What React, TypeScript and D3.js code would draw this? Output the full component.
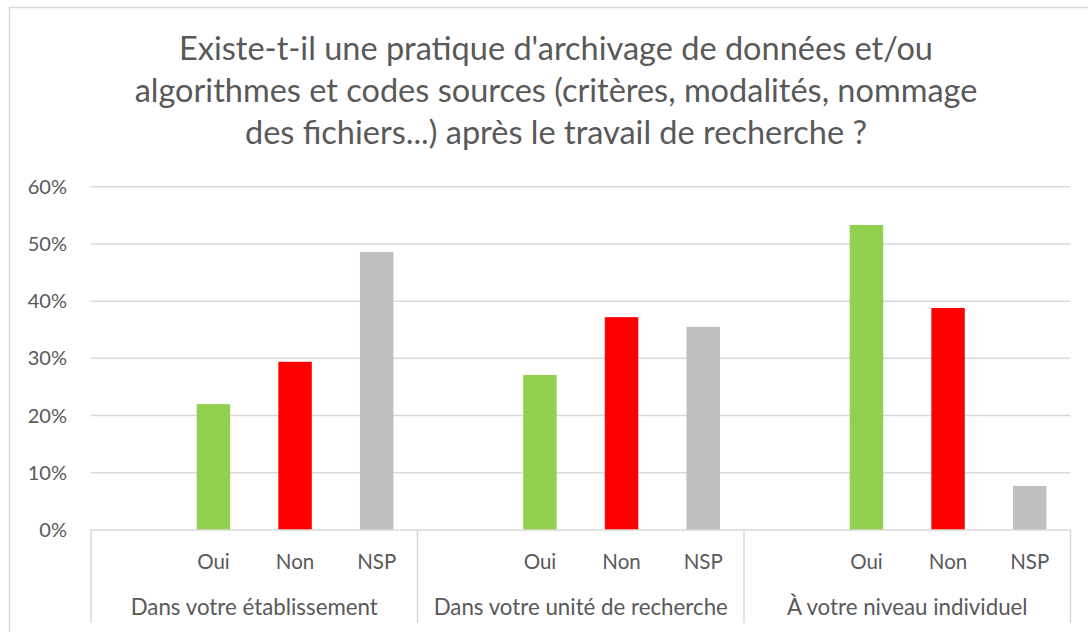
import React from "react";
import * as d3 from "d3";

const TITLE_LINES = [
  "Existe-t-il une pratique d'archivage de données et/ou",
  "algorithmes et codes sources (critères, modalités, nommage",
  "des fichiers...) après le travail de recherche ?",
];
const GROUPS = ["Dans votre établissement", "Dans votre unité de recherche", "À votre niveau individuel"];
const SLOTS = ["", "Oui", "Non", "NSP"];
const OUI = [0.22, 0.271, 0.533];
const NON = [0.294, 0.372, 0.388];
const NSP = [0.486, 0.355, 0.077];
const Y_TICKS = [0, 0.1, 0.2, 0.3, 0.4, 0.5, 0.6];
const COLORS: Record<string, string> = { Oui: "#92d050", Non: "#ff0000", NSP: "#bfbfbf" };

const W = 1088;
const H = 632;
const FONT = "Lato, 'Open Sans', sans-serif";
const TEXT = "#595959";

export default function App() {
  const plotL = 91, plotR = 1070.5, plotT = 186.7, plotB = 530;
  const y = d3.scaleLinear().domain([0, 0.6]).range([plotB, plotT]);
  const xg = d3.scaleBand<string>().domain(GROUPS).range([plotL, plotR]).padding(0);
  const xs = d3.scaleBand<string>().domain(SLOTS).range([0, xg.bandwidth()]).padding(0);
  const barW = xs.bandwidth() * 0.41;
  const seriesVals: Record<string, number[]> = { Oui: OUI, Non: NON, NSP: NSP };
  const bars: { g: string; s: string; v: number }[] = [];
  GROUPS.forEach((g, i) => {
    ["Oui", "Non", "NSP"].forEach((s) => bars.push({ g, s, v: seriesVals[s][i] }));
  });
  const fmt = d3.format(".0%");
  const boundaries = [plotL, ...GROUPS.map((g) => (xg(g) as number) + xg.bandwidth())];

  return (
    <svg width={W} height={H} style={{ position: "fixed", left: 0, top: 0, background: "#fff" }}>
      <rect x={9.5} y={7.5} width={W + 20} height={H + 20} fill="#fff" stroke="#d9d9d9" strokeWidth={1.5} />
      {TITLE_LINES.map((t, i) => (
        <text key={i} x={556} y={59.5 + i * 42} textAnchor="middle" fontFamily={FONT} fontSize={32.5} fill={TEXT}>
          {t}
        </text>
      ))}
      {Y_TICKS.map((t) => (
        <g key={t}>
          {t > 0 && <line x1={plotL} x2={plotR} y1={y(t)} y2={y(t)} stroke="#d9d9d9" strokeWidth={1.5} />}
          <text x={67} y={y(t) + 7} textAnchor="end" fontFamily={FONT} fontSize={20} fill={TEXT}>
            {fmt(t)}
          </text>
        </g>
      ))}
      {bars.map((b, i) => {
        const cx = (xg(b.g) as number) + (xs(b.s) as number) + xs.bandwidth() / 2;
        return <rect key={i} x={cx - barW / 2} y={y(b.v)} width={barW} height={plotB - y(b.v)} fill={COLORS[b.s]} />;
      })}
      <line x1={plotL} x2={plotR} y1={plotB} y2={plotB} stroke="#d9d9d9" strokeWidth={1.5} />
      {boundaries.map((bx, i) => (
        <line key={i} x1={bx} x2={bx} y1={plotB} y2={623} stroke="#d9d9d9" strokeWidth={1.5} />
      ))}
      {GROUPS.map((g) => (
        <g key={g}>
          {SLOTS.filter((s) => s).map((s) => (
            <text key={s} x={(xg(g) as number) + (xs(s) as number) + xs.bandwidth() / 2} y={569} textAnchor="middle" fontFamily={FONT} fontSize={20.5} fill={TEXT}>
              {s}
            </text>
          ))}
          <text x={(xg(g) as number) + xg.bandwidth() / 2} y={614.5} textAnchor="middle" fontFamily={FONT} fontSize={22.3} fill={TEXT}>
            {g}
          </text>
        </g>
      ))}
    </svg>
  );
}
